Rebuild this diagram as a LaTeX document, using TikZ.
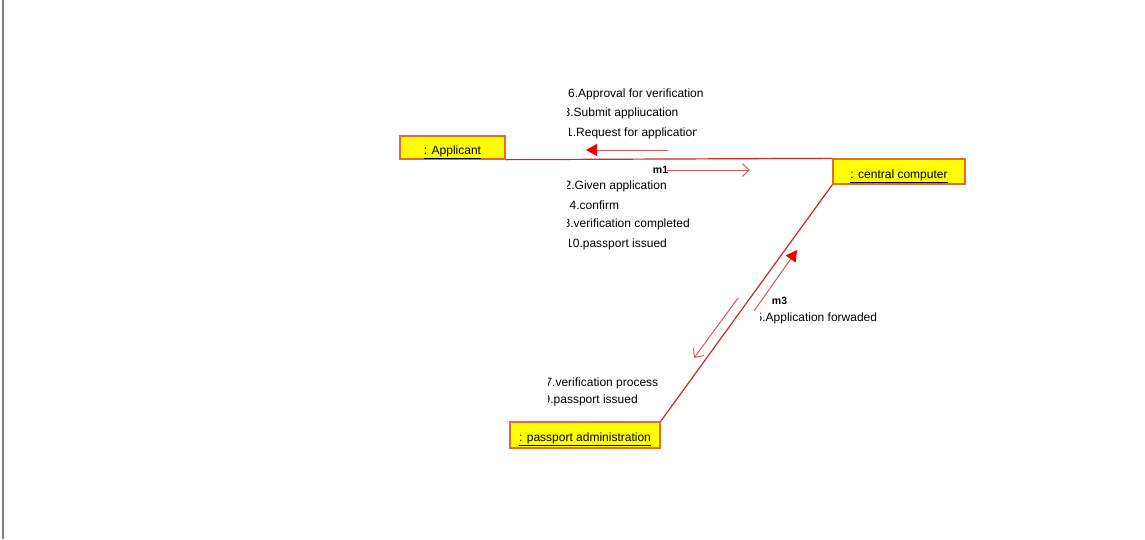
\documentclass[tikz,border=0pt]{standalone}
\usepackage{fontspec}
\setmainfont{Liberation Sans}
\usetikzlibrary{arrows.meta}
\definecolor{boxfill}{RGB}{255,255,0}
\definecolor{boxedge}{RGB}{232,104,48}
\definecolor{linkred}{RGB}{205,40,40}
\definecolor{msgline}{RGB}{215,90,90}
\definecolor{headred}{RGB}{240,0,0}
\definecolor{framegray}{RGB}{128,128,128}
\tikzset{
  objbox/.style={draw=boxedge, fill=boxfill, line width=1.3pt, inner sep=0pt,
    font=\fontsize{12}{14}\selectfont, text=black, text height=15pt, text depth=1.7pt},
  link/.style={draw=linkred, line width=1.2pt},
  msgfilled/.style={draw=msgline, line width=1pt,
    -{Triangle[length=11pt,width=12pt,color=headred,fill=headred]}},
  msgopen/.style={draw=msgline, line width=1pt,
    -{Straight Barb[length=7pt,width=13pt]}},
  lbl/.style={inner sep=0pt, anchor=west, font=\fontsize{12}{14}\selectfont},
  mlbl/.style={inner sep=0pt, font=\fontsize{10.5}{12}\selectfont\bfseries}
}
\newcommand\cliptext[6]{%
  \begin{scope}
    \clip (#4,#3-9) rectangle (#5,#3+9);
    \node[lbl] (#1) at (#2,#3) {#6};
  \end{scope}}
\begin{document}
\begin{tikzpicture}[x=1pt,y=-1pt]
\useasboundingbox[fill=white] (0,0) rectangle (1145,539);
\draw[framegray, line width=1.5pt] (3,0) -- (3,539);

% objects
\node[objbox, minimum width=105pt, minimum height=23pt] (app) at (452.5,147.5) {\underline{: Applicant}};
\node[objbox, minimum width=132pt, minimum height=25pt] (cc) at (899,171.5) {\underline{: central computer}};
\node[objbox, minimum width=150pt, minimum height=26pt] (pa) at (585,435) {\underline{: passport administration}};

% links
\draw[link] (app.south east) -- (cc.north west);
\draw[link] (cc.south west) -- (pa.north east);

% message arrows
\coordinate (a1s) at (668,150); \coordinate (a1e) at (586,150);
\draw[msgfilled] (a1s) -- (a1e);
\coordinate (a2s) at (667,170); \coordinate (a2e) at (750,170);
\draw[msgopen] (a2s) -- (a2e);
\coordinate (a3s) at (754,311); \coordinate (a3e) at (797,250);
\draw[msgfilled] (a3s) -- (a3e);
\coordinate (a4s) at (738,298); \coordinate (a4e) at (694,358);
\draw[msgopen] (a4s) -- (a4e);

% link labels
\node[mlbl] (m1) at (660.5,169.5) {m1};
\node[mlbl] (m3) at (779.5,300.5) {m3};

% message labels
\cliptext{t6}{568}{94}{560}{712}{6.Approval for verification}
\cliptext{t3}{563.5}{113}{567}{678}{3.Submit appliucation}
\cliptext{t1}{566}{133}{569}{696}{1.Request for application}
\cliptext{t2}{564.5}{186}{567.5}{667}{2.Given application}
\cliptext{t4}{569.5}{205}{560}{700}{4.confirm}
\cliptext{t8}{563.5}{224}{567}{692}{8.verification completed}
\cliptext{t10}{566}{244}{569.5}{666}{10.passport issued}
\cliptext{t5}{755.5}{318}{760}{879}{5.Application forwaded}
\cliptext{t7}{545.3}{383}{548}{660}{7.verification process}
\cliptext{t9}{543.5}{400}{548.5}{642}{9.passport issued}
\end{tikzpicture}
\end{document}
